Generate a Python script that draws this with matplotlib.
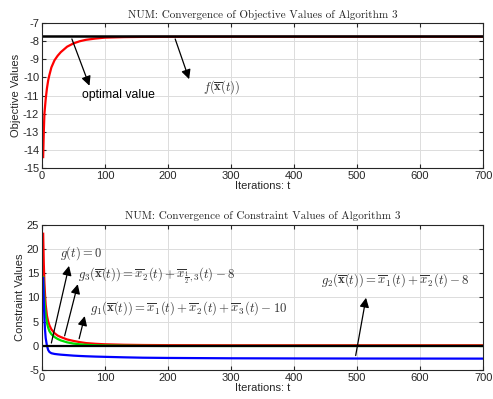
import matplotlib
matplotlib.use("Agg")
import matplotlib.pyplot as plt

plt.rcParams['font.family'] = ['Liberation Sans', 'DejaVu Sans']
plt.rcParams['mathtext.fontset'] = 'cm'
plt.rcParams['axes.unicode_minus'] = False

# --- Objective values ---
t_obj = [2, 3, 4, 5, 6, 8, 10, 12, 15, 20, 25, 30, 40, 50, 60, 70, 85, 100, 130, 160, 200, 300, 400, 500, 600, 700]
f_obj = [-14.4, -13.0, -12.0, -11.6, -11.2, -10.6, -10.15, -9.85, -9.45, -9.05, -8.8, -8.6, -8.3, -8.12, -8.0, -7.92, -7.85, -7.8, -7.77, -7.76, -7.755, -7.75, -7.75, -7.75, -7.75, -7.75]
optimal = -7.72

# --- Constraint values ---
t_con = [2, 3, 4, 5, 6, 8, 10, 12, 15, 20, 25, 30, 40, 50, 60, 70, 85, 100, 130, 160, 200, 300, 400, 500, 600, 700]
g1 = [23.2, 17.0, 13.0, 10.5, 8.5, 6.2, 5.0, 4.2, 3.4, 2.6, 2.1, 1.8, 1.3, 1.0, 0.75, 0.55, 0.4, 0.3, 0.2, 0.15, 0.12, 0.1, 0.1, 0.1, 0.1, 0.1]
g3 = [14.2, 12.0, 9.5, 7.8, 6.4, 4.7, 3.7, 3.0, 2.4, 1.8, 1.4, 1.1, 0.7, 0.45, 0.3, 0.2, 0.1, 0.05, 0.0, -0.03, -0.05, -0.05, -0.05, -0.05, -0.05, -0.05]
g2 = [14.0, 9.0, 5.5, 3.2, 1.6, 0.0, -0.9, -1.3, -1.55, -1.7, -1.78, -1.85, -1.95, -2.05, -2.12, -2.18, -2.25, -2.3, -2.4, -2.48, -2.53, -2.6, -2.63, -2.65, -2.66, -2.67]

fig = plt.figure(figsize=(4.93, 3.99), dpi=100)
ax1 = fig.add_axes([0.085, 0.579, 0.895, 0.363])
ax2 = fig.add_axes([0.085, 0.073, 0.895, 0.363])

def style(ax, ylim, yticks, ylabel, title):
    ax.set_xlim(0, 700)
    ax.set_ylim(*ylim)
    ax.set_xticks(range(0, 701, 100))
    ax.set_yticks(yticks)
    ax.grid(True, color='#dcdcdc', lw=0.7)
    ax.set_axisbelow(True)
    ax.tick_params(direction='in', top=True, right=True, labelsize=8, colors='#262626', length=3, pad=2)
    for s in ax.spines.values():
        s.set_color('#262626')
        s.set_linewidth(0.8)
    ax.set_xlabel('Iterations: t', fontsize=8, color='#262626', labelpad=0)
    ax.set_ylabel(ylabel, fontsize=8, color='#262626', labelpad=1)
    ax.set_title(title, fontsize=8, family='cmr10', color='#262626', pad=4)

# --- Top panel ---
ax1.plot(t_obj, f_obj, color='red', lw=1.6)
ax1.axhline(optimal, color='black', lw=1.8)
style(ax1, (-15, -7), range(-15, -6), 'Objective Values',
      'NUM: Convergence of Objective Values of Algorithm 3')
ap = dict(arrowstyle='-|>', color='k', lw=0.9, mutation_scale=14)
ax1.annotate('', xy=(77, -10.6), xytext=(46, -7.73), arrowprops=ap)
ax1.text(63, -10.97, 'optimal value', fontsize=8.8, va='center')
ax1.annotate('', xy=(235, -10.24), xytext=(210, -7.73), arrowprops=ap)
ax1.text(255, -10.55, r'$f(\overline{\mathbf{x}}(t))$', fontsize=9, va='center', color='#333333')

# --- Bottom panel ---
ax2.plot(t_con, g1, color='red', lw=1.6)
ax2.plot(t_con, g3, color='#00dd00', lw=1.6)
ax2.plot(t_con, g2, color='blue', lw=1.6)
ax2.axhline(0, color='black', lw=1.6)
style(ax2, (-5, 25), range(-5, 26, 5), 'Constraint Values',
      'NUM: Convergence of Constraint Values of Algorithm 3')
ax2.annotate('', xy=(44, 17.1), xytext=(14, 0), arrowprops=ap)
ax2.text(28, 19.1, r'$g(t) = 0$', fontsize=9, va='center', color='#333333')
ax2.annotate('', xy=(58, 13.3), xytext=(35, 1.5), arrowprops=ap)
ax2.text(58, 14.4, r'$g_3(\overline{\mathbf{x}}(t)) = \overline{x}_2(t) + \overline{x}_{\frac{1}{2},3}(t) - 8$',
         fontsize=9.2, va='center', color='#333333')
ax2.annotate('', xy=(69, 6.7), xytext=(58, 0.9), arrowprops=ap)
ax2.text(77, 7.8, r'$g_1(\overline{\mathbf{x}}(t)) = \overline{x}_1(t) + \overline{x}_2(t) + \overline{x}_3(t) - 10$',
         fontsize=9.2, va='center', color='#333333')
ax2.annotate('', xy=(515, 10.5), xytext=(497, -2.6), arrowprops=ap)
ax2.text(442, 13.5, r'$g_2(\overline{\mathbf{x}}(t)) = \overline{x}_1(t) + \overline{x}_2(t) - 8$',
         fontsize=9.2, va='center', color='#333333')

fig.savefig('out.png', dpi=100)
